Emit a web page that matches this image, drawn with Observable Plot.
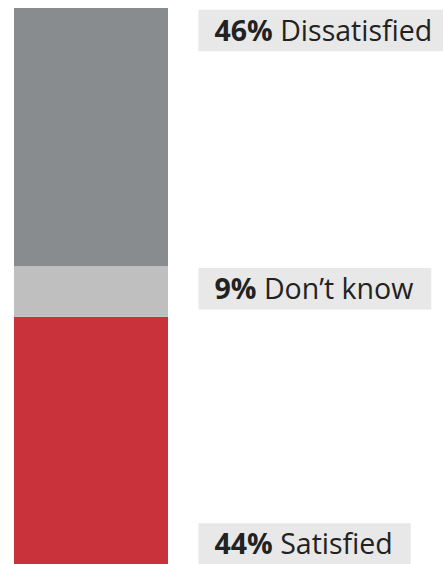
<!DOCTYPE html>
<html>
<head>
<meta charset="utf-8">
<script src="https://cdn.jsdelivr.net/npm/d3@7"></script>
<script src="https://cdn.jsdelivr.net/npm/@observablehq/plot@0.6"></script>
<style>
  html, body { margin: 0; padding: 0; background: #ffffff; }
  #chart svg { display: block; overflow: visible; }
</style>
</head>
<body>
<div id="chart"></div>
<script>
// Data (bottom to top)
const categories = ["Satisfied", "Don’t know", "Dissatisfied"];
const values = [44, 9, 46];
const colors = ["#c9323b", "#bfbfbf", "#898c8f"];
// where each label hangs on its segment
const labelAnchors = ["bottom", "top", "top"];

const data = categories.map((c, i) => ({group: "all", category: c, value: values[i], anchor: labelAnchors[i]}));
let acc = 0;
data.forEach(d => { d.y1 = acc; acc += d.value; d.y2 = acc; d.labelY = d.anchor === "top" ? d.y2 : d.y1; });

const label = d => `${d.value}% ${d.category}`;
const textOpts = {x: "group", y: "labelY", text: label, textAnchor: "start", lineAnchor: "top",
  dx: 123, fontSize: 28.5, fill: "#222222"};

const chart = Plot.plot({
  width: 443,
  height: 564,
  marginTop: 8,
  marginBottom: 0,
  marginLeft: 14,
  marginRight: 275,
  style: {fontFamily: "'Open Sans', sans-serif", background: "#ffffff"},
  x: {axis: null, padding: 0, domain: ["all"]},
  y: {axis: null, domain: [0, d3.sum(values)]},
  color: {domain: categories, range: colors},
  marks: [
    Plot.barY(data, Plot.stackY({x: "group", y: "value", fill: "category", order: null})),
    Plot.text(data.filter(d => d.anchor === "top"), {...textOpts, dy: 12}),
    Plot.text(data.filter(d => d.anchor === "bottom"), {...textOpts, dy: -30.5})
  ]
});
document.getElementById("chart").appendChild(chart);

// Mixed weights and background boxes for labels
chart.querySelectorAll("g[aria-label='text'] text").forEach(t => {
  const s = t.textContent;
  const k = s.indexOf(" ");
  t.textContent = "";
  const b = document.createElementNS("http://www.w3.org/2000/svg", "tspan");
  b.setAttribute("font-weight", "bold");
  b.textContent = s.slice(0, k);
  const r = document.createElementNS("http://www.w3.org/2000/svg", "tspan");
  r.textContent = s.slice(k);
  t.appendChild(b); t.appendChild(r);
  const bb = t.getBBox();
  const rect = document.createElementNS("http://www.w3.org/2000/svg", "rect");
  const x0 = bb.x - 16;
  const x1 = Math.min(bb.x + bb.width + 18, 438);
  rect.setAttribute("x", x0);
  rect.setAttribute("y", bb.y - 1);
  rect.setAttribute("width", x1 - x0);
  rect.setAttribute("height", bb.height + 3.5);
  rect.setAttribute("fill", "#e8e8e8");
  const tr = t.getAttribute("transform");
  if (tr) rect.setAttribute("transform", tr);
  t.parentNode.insertBefore(rect, t);
});
</script>
</body>
</html>
